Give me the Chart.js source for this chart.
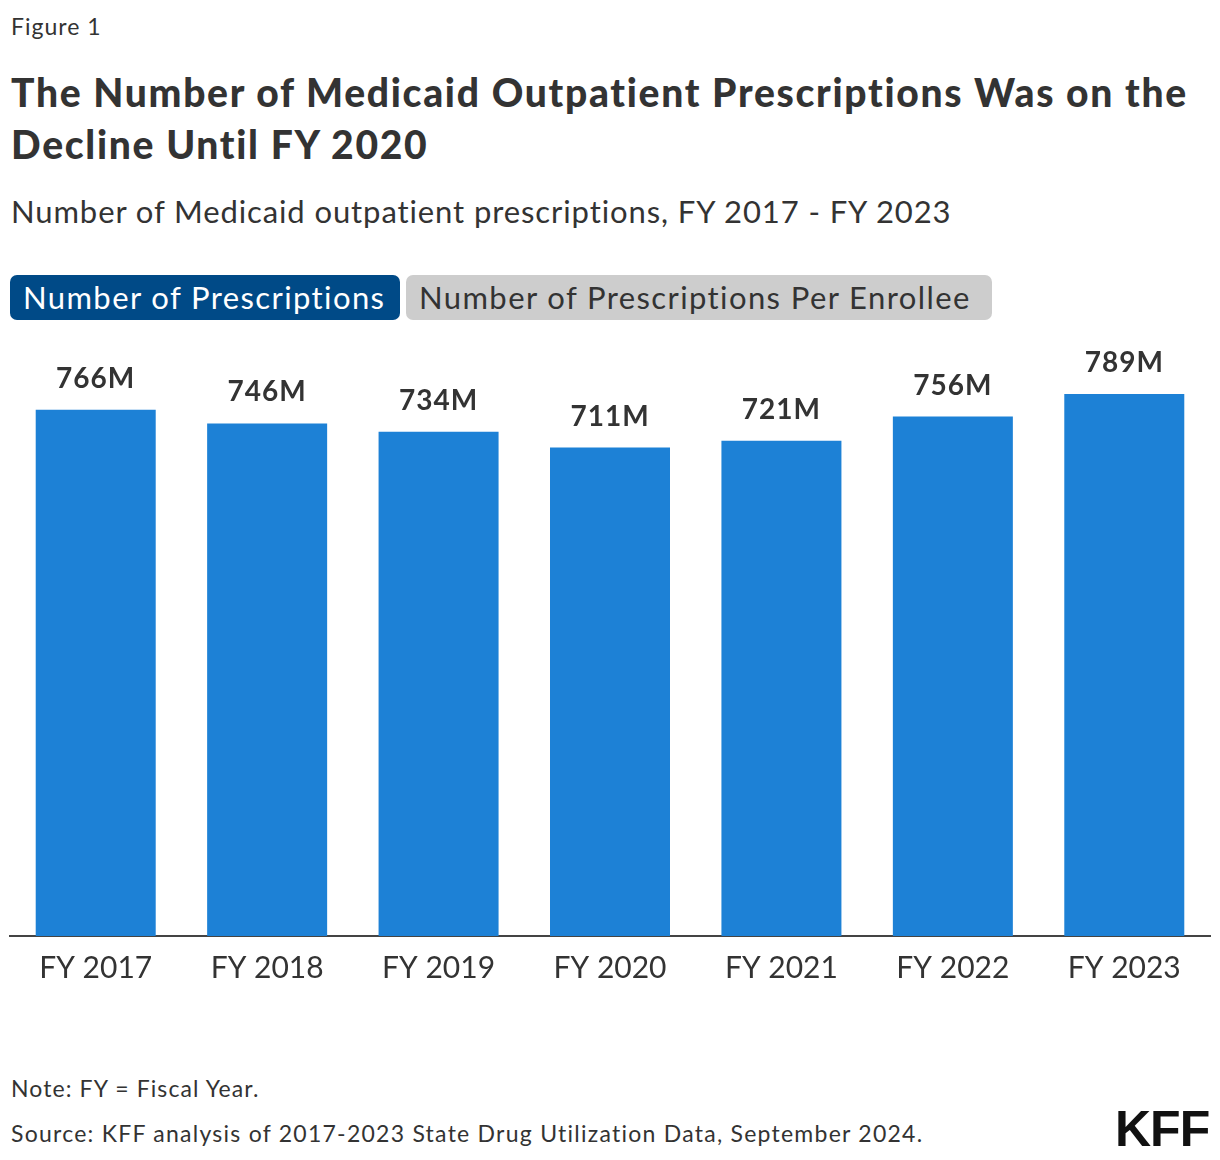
<!DOCTYPE html>
<html>
<head>
<meta charset="utf-8">
<script src="https://cdn.jsdelivr.net/npm/chart.js@4/dist/chart.umd.min.js"></script>
<style>
  html, body { margin: 0; padding: 0; background: #fff; }
  body { width: 1220px; height: 1160px; position: relative; font-family: Lato, "Noto Sans", sans-serif; color: #333; overflow: hidden; }
  .fig { position: absolute; left: 11px; top: 12px; font-size: 23px; color: #333; letter-spacing: 1px; }
  .title { position: absolute; left: 11px; top: 66px; width: 1210px; font-size: 39px; font-weight: 900; line-height: 52px; color: #333; letter-spacing: 1.7px; white-space: nowrap; }
  .sub { position: absolute; left: 11px; top: 192px; font-size: 31px; color: #333; letter-spacing: 0.9px; }
  .btn { position: absolute; top: 275px; height: 45px; line-height: 45px; border-radius: 7px; font-size: 31px; padding: 0 13px; box-sizing: border-box; white-space: nowrap; }
  .b1 { left: 10px; width: 390px; background: #004a87; color: #fff; letter-spacing: 1.4px; }
  .b2 { left: 406px; width: 586px; background: #cdcdcd; color: #333; letter-spacing: 1.4px; }
  #wrap { position: absolute; left: 0; top: 330px; width: 1220px; height: 670px; }
  .note { position: absolute; left: 11px; font-size: 23px; color: #333; letter-spacing: 1.1px; }
  .src { letter-spacing: 1.25px; }
  .logo { position: absolute; left: 1115px; top: 1100px; font-family: "Liberation Sans Narrow", "Liberation Sans", sans-serif; font-weight: bold; font-size: 50px; color: #111; letter-spacing: -1px; }
</style>
</head>
<body>
<div class="fig">Figure 1</div>
<div class="title">The Number of Medicaid Outpatient Prescriptions Was on the<br>Decline Until FY 2020</div>
<div class="sub">Number of Medicaid outpatient prescriptions, FY 2017 - FY 2023</div>
<div class="btn b1">Number of Prescriptions</div>
<div class="btn b2">Number of Prescriptions Per Enrollee</div>
<div id="wrap"><canvas id="c"></canvas></div>
<div class="note" style="top:1074px">Note: FY = Fiscal Year.</div>
<div class="note src" style="top:1119px">Source: KFF analysis of 2017-2023 State Drug Utilization Data, September 2024.</div>
<div class="logo">KFF</div>
<script>
const categories = ["FY 2017", "FY 2018", "FY 2019", "FY 2020", "FY 2021", "FY 2022", "FY 2023"];
const prescriptionsMillions = [766, 746, 734, 711, 721, 756, 789];
const valueLabels = ["766M", "746M", "734M", "711M", "721M", "756M", "789M"];

const labelPlugin = {
  id: 'barLabels',
  afterDatasetsDraw(chart) {
    const ctx = chart.ctx;
    const meta = chart.getDatasetMeta(0);
    ctx.save();
    ctx.font = 'bold 28px Lato, "Noto Sans", sans-serif';
    ctx.letterSpacing = '1px';
    ctx.fillStyle = '#333';
    ctx.textAlign = 'center';
    ctx.textBaseline = 'alphabetic';
    meta.data.forEach((bar, i) => {
      ctx.fillText(valueLabels[i], bar.x, bar.y - 22);
    });
    ctx.restore();
  }
};

new Chart(document.getElementById('c'), {
  type: 'bar',
  data: {
    labels: categories,
    datasets: [{
      data: prescriptionsMillions,
      backgroundColor: '#1d81d6',
      borderWidth: 0,
      categoryPercentage: 1,
      barPercentage: 0.7
    }]
  },
  options: {
    responsive: true,
    maintainAspectRatio: false,
    animation: false,
    layout: { padding: { left: 10, right: 10, top: 22, bottom: 0 } },
    plugins: { legend: { display: false }, tooltip: { enabled: false } },
    scales: {
      x: {
        grid: { display: false, drawTicks: false },
        border: { display: true, color: '#444', width: 2 },
        ticks: { color: '#333', font: { size: 30, family: 'Lato, "Noto Sans", sans-serif' }, padding: 14 }
      },
      y: {
        display: false,
        min: 0,
        max: 850
      }
    }
  },
  plugins: [labelPlugin]
});
</script>
</body>
</html>
